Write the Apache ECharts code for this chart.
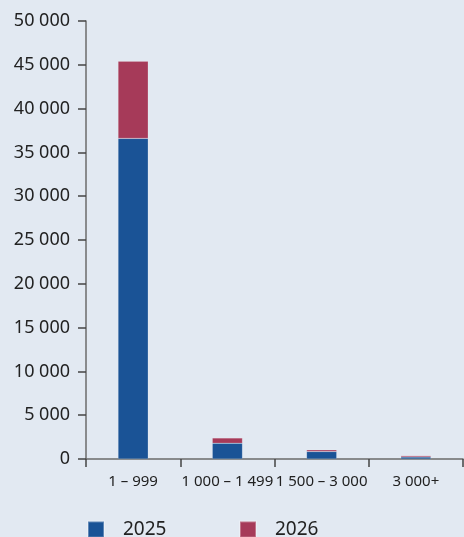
<!DOCTYPE html>
<html><head><meta charset="utf-8">
<script src="https://cdn.jsdelivr.net/npm/echarts@6/dist/echarts.min.js"></script>
<style>html,body{margin:0;padding:0;background:#e2e9f2;}#c{width:464px;height:537px;}</style>
</head><body><div id="c"></div>
<script>
const categories = ['1 – 999', '1 000 – 1 499', '1 500 – 3 000', '3 000+'];
const values2025 = [36600, 1800, 850, 230];
const values2026 = [8800, 600, 200, 150];
const yTicks = { min: 0, max: 50000, interval: 5000 };

const fmt = v => String(v).replace(/\B(?=(\d{3})+(?!\d))/g, ' ');
const chart = echarts.init(document.getElementById('c'));
const font = 'Noto Sans';
chart.setOption({
  backgroundColor: '#e2e9f2',
  animation: false,
  grid: { left: 86, right: 1, top: 21, bottom: 78, containLabel: false },
  legend: [
    { data: ['2025'], left: 82, top: 515, itemWidth: 16, itemHeight: 16, icon: 'rect',
      textStyle: { fontFamily: font, fontSize: 19, color: '#222', padding: [0, 0, 0, 14] } },
    { data: ['2026'], left: 234, top: 515, itemWidth: 16, itemHeight: 16, icon: 'rect',
      textStyle: { fontFamily: font, fontSize: 19, color: '#222', padding: [0, 0, 0, 14] } }
  ],
  xAxis: {
    type: 'category', data: categories,
    axisLine: { lineStyle: { color: '#6b6b6b', width: 1.5 } },
    axisTick: { show: true, length: 8, lineStyle: { color: '#444', width: 1.5 } },
    axisLabel: { interval: 0, fontFamily: font, fontSize: 15, color: '#222', margin: 15 }
  },
  yAxis: {
    type: 'value', min: yTicks.min, max: yTicks.max, interval: yTicks.interval,
    axisLine: { show: true, lineStyle: { color: '#6b6b6b', width: 1.5 } },
    axisTick: { show: true, length: 8, lineStyle: { color: '#444', width: 1.5 } },
    splitLine: { show: false },
    axisLabel: { formatter: fmt, fontFamily: font, fontSize: 18, color: '#222', margin: 16 }
  },
  series: [
    { name: '2025', type: 'bar', stack: 'a', data: values2025, barWidth: '32%',
      itemStyle: { color: '#1a5396', borderColor: 'rgba(255,255,255,0.3)', borderWidth: 0.5 } },
    { name: '2026', type: 'bar', stack: 'a', data: values2026, barWidth: '32%',
      itemStyle: { color: '#a63a59', borderColor: 'rgba(255,255,255,0.3)', borderWidth: 0.5 } }
  ]
});
</script></body></html>
